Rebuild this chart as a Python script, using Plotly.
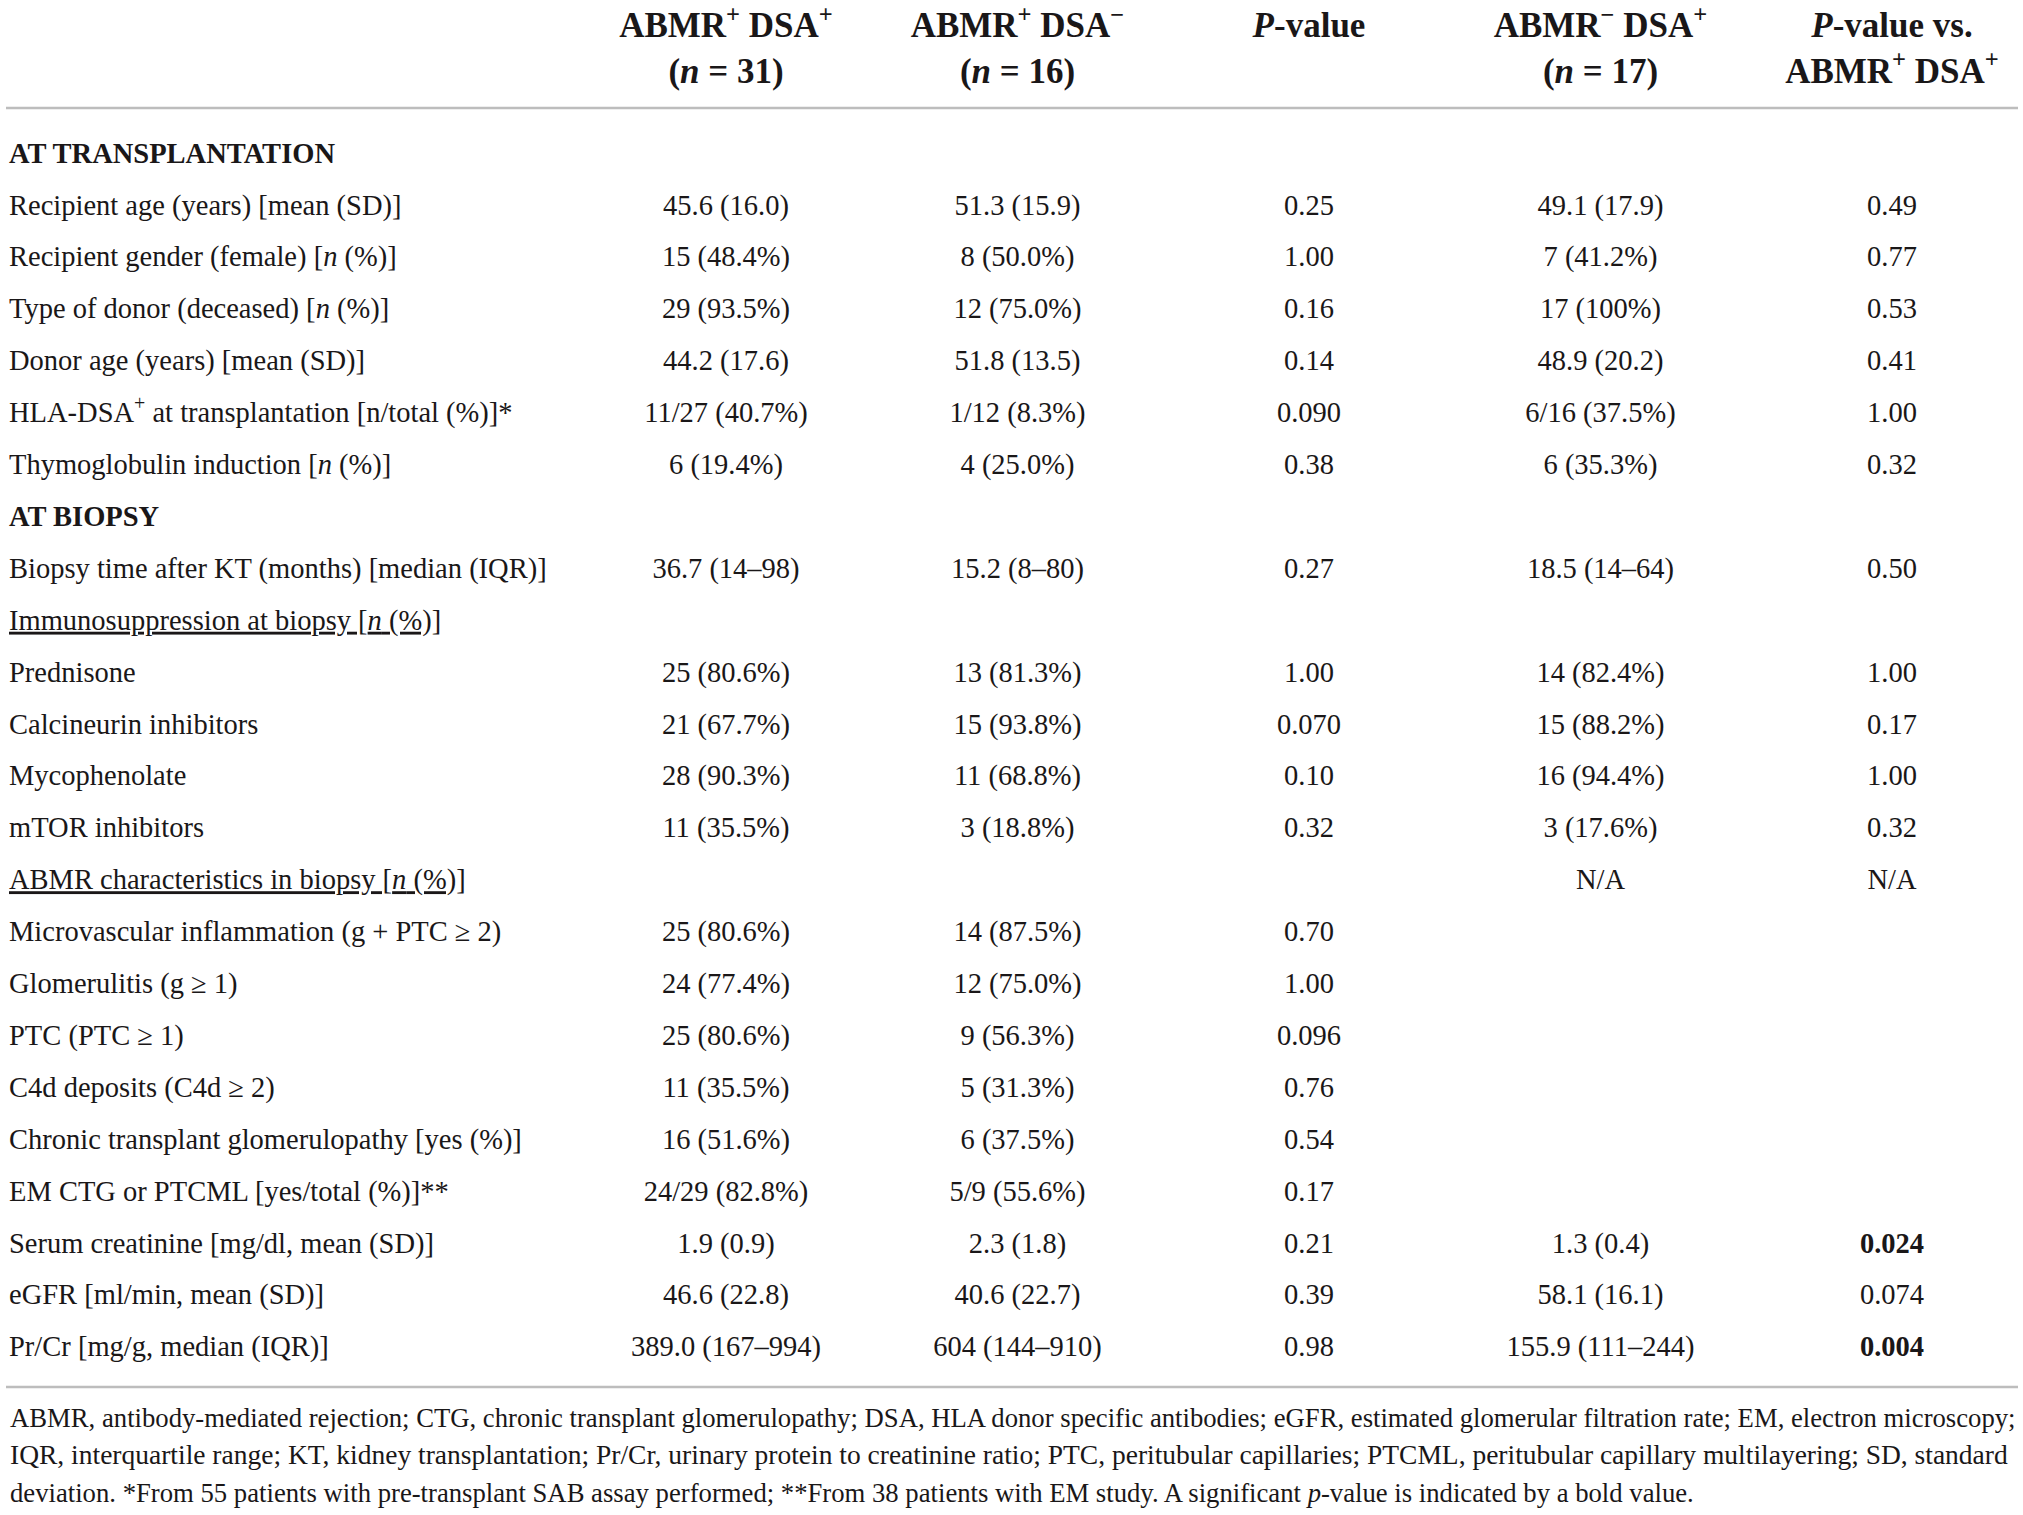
import plotly.graph_objects as go

# ---------------- data ----------------
row_labels = [
    "AT TRANSPLANTATION",
    "Recipient age (years) [mean (SD)]",
    "Recipient gender (female) [<i>n</i> (%)]",
    "Type of donor (deceased) [<i>n</i> (%)]",
    "Donor age (years) [mean (SD)]",
    "HLA-DSA<sup>+</sup> at transplantation [n/total (%)]*",
    "Thymoglobulin induction [<i>n</i> (%)]",
    "AT BIOPSY",
    "Biopsy time after KT (months) [median (IQR)]",
    "Immunosuppression at biopsy [<i>n</i> (%)]",
    "Prednisone",
    "Calcineurin inhibitors",
    "Mycophenolate",
    "mTOR inhibitors",
    "ABMR characteristics in biopsy [<i>n</i> (%)]",
    "Microvascular inflammation (g + PTC ≥ 2)",
    "Glomerulitis (g ≥ 1)",
    "PTC (PTC ≥ 1)",
    "C4d deposits (C4d ≥ 2)",
    "Chronic transplant glomerulopathy [yes (%)]",
    "EM CTG or PTCML [yes/total (%)]**",
    "Serum creatinine [mg/dl, mean (SD)]",
    "eGFR [ml/min, mean (SD)]",
    "Pr/Cr [mg/g, median (IQR)]",
]
row_kind = ["section", "item", "item", "item", "item", "item", "item",
            "section", "item", "group", "item", "item", "item", "item",
            "group", "item", "item", "item", "item", "item", "item",
            "item", "item", "item"]

header_line1 = ["ABMR<sup>+</sup> DSA<sup>+</sup>", "ABMR<sup>+</sup> DSA<sup>−</sup>",
                "<i>P</i>-value", "ABMR<sup>−</sup> DSA<sup>+</sup>", "<i>P</i>-value vs."]
header_line2 = ["(<i>n</i> = 31)", "(<i>n</i> = 16)", "", "(<i>n</i> = 17)",
                "ABMR<sup>+</sup> DSA<sup>+</sup>"]

abmr_pos_dsa_pos = ["", "45.6 (16.0)", "15 (48.4%)", "29 (93.5%)", "44.2 (17.6)",
                    "11/27 (40.7%)", "6 (19.4%)", "", "36.7 (14–98)", "",
                    "25 (80.6%)", "21 (67.7%)", "28 (90.3%)", "11 (35.5%)", "",
                    "25 (80.6%)", "24 (77.4%)", "25 (80.6%)", "11 (35.5%)",
                    "16 (51.6%)", "24/29 (82.8%)", "1.9 (0.9)", "46.6 (22.8)",
                    "389.0 (167–994)"]
abmr_pos_dsa_neg = ["", "51.3 (15.9)", "8 (50.0%)", "12 (75.0%)", "51.8 (13.5)",
                    "1/12 (8.3%)", "4 (25.0%)", "", "15.2 (8–80)", "",
                    "13 (81.3%)", "15 (93.8%)", "11 (68.8%)", "3 (18.8%)", "",
                    "14 (87.5%)", "12 (75.0%)", "9 (56.3%)", "5 (31.3%)",
                    "6 (37.5%)", "5/9 (55.6%)", "2.3 (1.8)", "40.6 (22.7)",
                    "604 (144–910)"]
p_value = ["", "0.25", "1.00", "0.16", "0.14", "0.090", "0.38", "", "0.27", "",
           "1.00", "0.070", "0.10", "0.32", "", "0.70", "1.00", "0.096", "0.76",
           "0.54", "0.17", "0.21", "0.39", "0.98"]
abmr_neg_dsa_pos = ["", "49.1 (17.9)", "7 (41.2%)", "17 (100%)", "48.9 (20.2)",
                    "6/16 (37.5%)", "6 (35.3%)", "", "18.5 (14–64)", "",
                    "14 (82.4%)", "15 (88.2%)", "16 (94.4%)", "3 (17.6%)", "N/A",
                    "", "", "", "", "", "", "1.3 (0.4)", "58.1 (16.1)",
                    "155.9 (111–244)"]
p_value_vs_pos = ["", "0.49", "0.77", "0.53", "0.41", "1.00", "0.32", "", "0.50", "",
                  "1.00", "0.17", "1.00", "0.32", "N/A", "", "", "", "", "", "",
                  "0.024", "0.074", "0.004"]
p_value_vs_bold = [False] * 21 + [True, False, True]

footnote_lines = [
    "ABMR, antibody-mediated rejection; CTG, chronic transplant glomerulopathy; DSA, HLA donor specific antibodies; eGFR, estimated glomerular filtration rate; EM, electron microscopy;",
    "IQR, interquartile range; KT, kidney transplantation; Pr/Cr, urinary protein to creatinine ratio; PTC, peritubular capillaries; PTCML, peritubular capillary multilayering; SD, standard",
    "deviation. *From 55 patients with pre-transplant SAB assay performed; **From 38 patients with EM study. A significant <i>p</i>-value is indicated by a bold value.",
]

# ---------------- layout constants ----------------
W, H = 2023, 1515
FONT = "Liberation Serif"
INK = "#1a1718"
RULE = "#bdbdbd"
BODY_SIZE = 28.5
HEAD_SIZE = 35
FOOT_SIZES = [26.7, 27.5, 26.7]

label_x = 9
col_x0, col_dx = 726, 291.5
row_y0, row_dy = 155.5, 51.9
head_top = 11
rule_top, rule_bottom = 108, 1387
foot_y0, foot_dy = 1420, 37.5

n_rows = len(row_labels)
row_y = [row_y0 + row_dy * i for i in range(n_rows)]


def fmt_label(text, kind):
    if kind == "section":
        return "<b>" + text + "</b>"
    if kind == "group":
        return "<u>" + text + "</u>"
    return text


def text_trace(xs, ys, texts, pos, size):
    keep = [i for i, t in enumerate(texts) if t]
    return go.Scatter(
        x=[xs[i] for i in keep], y=[ys[i] for i in keep], mode="text",
        text=[texts[i] for i in keep], textposition=pos,
        textfont=dict(family=FONT, size=size, color=INK),
        hoverinfo="skip", showlegend=False, cliponaxis=False,
    )


fig = go.Figure()

# row labels
fig.add_trace(text_trace([label_x] * n_rows, row_y,
                         [fmt_label(t, k) for t, k in zip(row_labels, row_kind)],
                         "middle right", BODY_SIZE))

# value columns
columns = [
    abmr_pos_dsa_pos,
    abmr_pos_dsa_neg,
    p_value,
    abmr_neg_dsa_pos,
    ["<b>" + v + "</b>" if b else v for v, b in zip(p_value_vs_pos, p_value_vs_bold)],
]
for ci, col in enumerate(columns):
    cx = col_x0 + col_dx * ci
    fig.add_trace(text_trace([cx] * n_rows, row_y, col, "middle center", BODY_SIZE))

# header (two lines, top aligned)
n_cols = len(header_line1)
head_x = [col_x0 + col_dx * i for i in range(n_cols)]
head_text = ["<b>" + a + ("<br>" + b if b else "") + "</b>"
             for a, b in zip(header_line1, header_line2)]
fig.add_trace(text_trace(head_x, [head_top] * n_cols, head_text,
                         "bottom center", HEAD_SIZE))

# footnote
for i, line in enumerate(footnote_lines):
    fig.add_trace(text_trace([10], [foot_y0 + foot_dy * i], [line],
                             "middle right", FOOT_SIZES[i]))

# rules
for yy in (rule_top, rule_bottom):
    fig.add_shape(type="line", xref="x", yref="y", x0=6, x1=2018, y0=yy, y1=yy,
                  line=dict(color=RULE, width=2.5))

fig.update_layout(
    width=W, height=H,
    margin=dict(l=0, r=0, t=0, b=0),
    paper_bgcolor="white", plot_bgcolor="white",
    xaxis=dict(range=[0, W], visible=False, fixedrange=True),
    yaxis=dict(range=[H, 0], visible=False, fixedrange=True),
    showlegend=False,
)

fig.write_html(
    "out.html",
    config={"displayModeBar": False},
    post_script="document.body.style.margin='0';document.body.style.overflow='hidden';",
)
